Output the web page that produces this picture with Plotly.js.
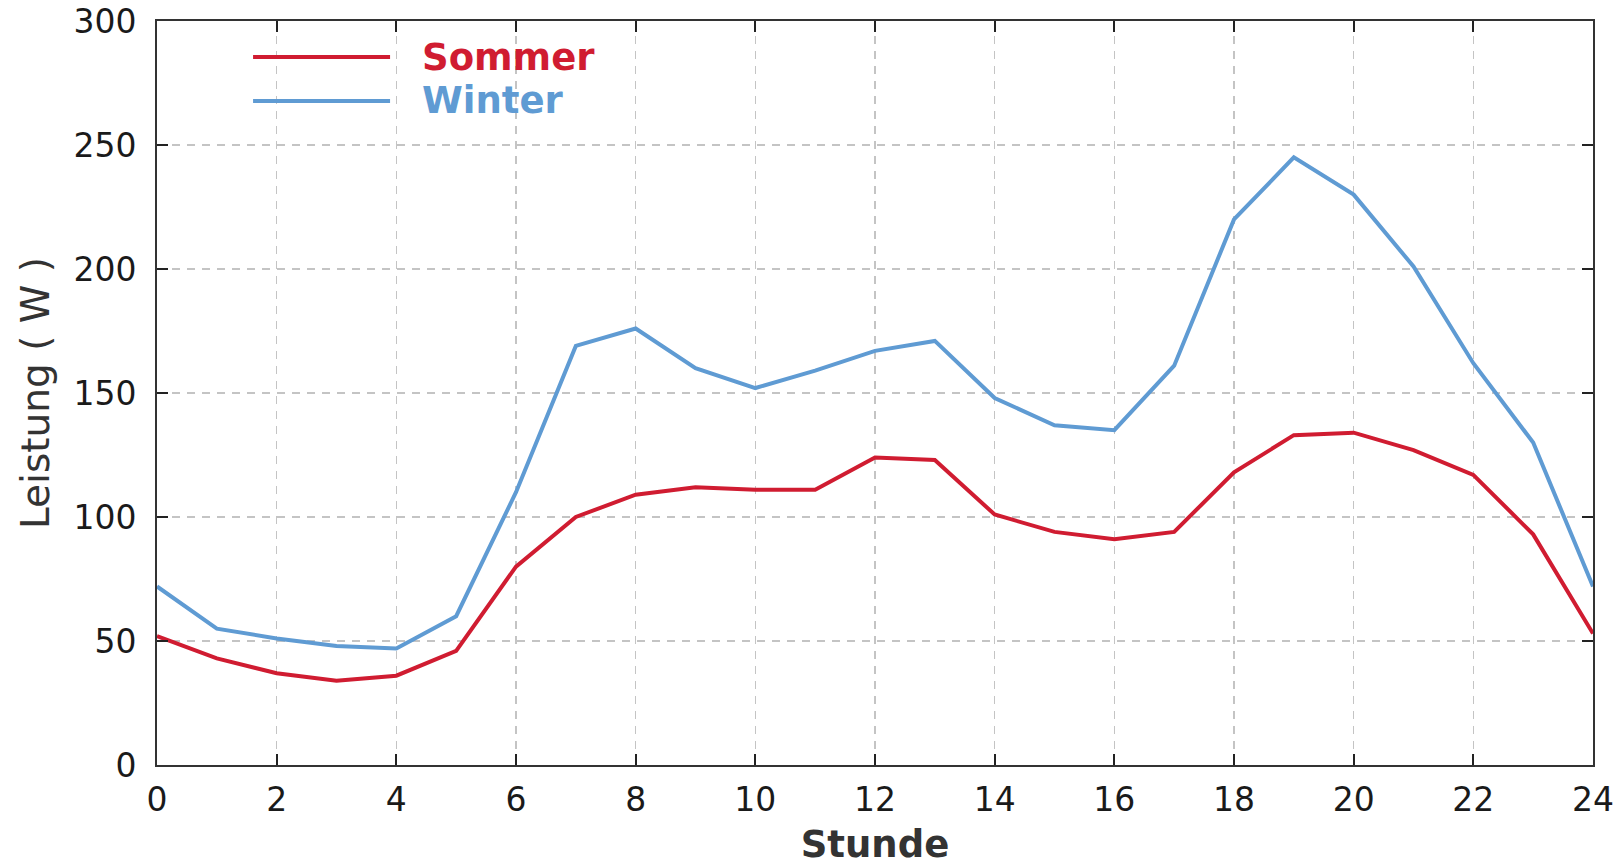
<!DOCTYPE html>
<html>
<head>
<meta charset="utf-8">
<script src="https://cdn.plot.ly/plotly-3.0.1.min.js"></script>
<style>html,body{margin:0;padding:0;background:#fff;}#chart{width:1616px;height:866px;}</style>
</head>
<body>
<div id="chart"></div>
<script>
const hours = [0,1,2,3,4,5,6,7,8,9,10,11,12,13,14,15,16,17,18,19,20,21,22,23,24];
const sommer = [52,43,37,34,36,46,80,100,109,112,111,111,124,123,101,94,91,94,118,133,134,127,117,93,53];
const winter = [72,55,51,48,47,60,110,169,176,160,152,159,167,171,148,137,135,161,220,245,230,201,162,130,72];
const seriesNames = ["Sommer","Winter"];
const seriesColors = ["#d01c31","#5f9bd3"];
const xTickVals = [0,2,4,6,8,10,12,14,16,18,20,22,24];
const yTickVals = [0,50,100,150,200,250,300];

const traces = [
  {x: hours, y: sommer, name: seriesNames[0], type: "scatter", mode: "lines",
   line: {color: seriesColors[0], width: 4}},
  {x: hours, y: winter, name: seriesNames[1], type: "scatter", mode: "lines",
   line: {color: seriesColors[1], width: 4}}
];

const axisCommon = {
  showline: true, linecolor: "#333", linewidth: 2, mirror: "ticks",
  ticks: "inside", ticklen: 11, tickwidth: 2, tickcolor: "#222",
  showgrid: true, gridcolor: "#c4c4c4", gridwidth: 1.6, griddash: "8px,7px",
  zeroline: false,
  tickfont: {family: "DejaVu Sans", size: 33, color: "#1a1a1a"}
};

const legendY = [0.9516, 0.8925];
const shapes = seriesNames.map((n, i) => ({
  type: "line", xref: "paper", yref: "paper",
  x0: 0.0669, x1: 0.1623, y0: legendY[i], y1: legendY[i],
  line: {color: seriesColors[i], width: 4}
}));
const annotations = seriesNames.map((n, i) => ({
  xref: "paper", yref: "paper", x: 0.183, y: legendY[i],
  xanchor: "left", yanchor: "middle", showarrow: false,
  text: "<b>" + n + "</b>",
  font: {family: "DejaVu Sans", size: 37, color: seriesColors[i]}
}));

const layout = {
  width: 1616, height: 866,
  paper_bgcolor: "#fff", plot_bgcolor: "#fff",
  margin: {l: 157, r: 23, t: 21, b: 101},
  showlegend: false,
  xaxis: Object.assign({}, axisCommon, {
    range: [0, 24], tickvals: xTickVals, ticktext: xTickVals.map(String),
    ticklabelstandoff: 4,
    title: {text: "<b>Stunde</b>", font: {family: "DejaVu Sans", size: 37, color: "#333"}, standoff: 15}
  }),
  yaxis: Object.assign({}, axisCommon, {
    range: [0, 300], tickvals: yTickVals, ticktext: yTickVals.map(String),
    ticklabelstandoff: 12,
    title: {text: "Leistung ( W )", font: {family: "DejaVu Sans", size: 39, color: "#333"}, standoff: 12}
  }),
  shapes: shapes,
  annotations: annotations
};

Plotly.newPlot("chart", traces, layout, {displayModeBar: false, staticPlot: true});
</script>
</body>
</html>
